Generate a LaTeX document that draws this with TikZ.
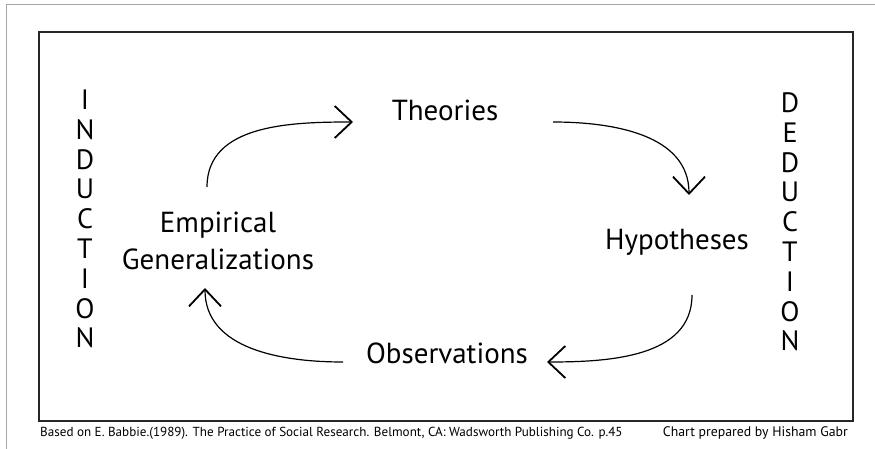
\documentclass[tikz,border=0pt]{standalone}
\usepackage{fontspec}
\setmainfont{PT Sans}
\usetikzlibrary{calc,arrows.meta}
\tikzstyle{term} = [text centered, inner sep=0pt, align=center, font=\fontsize{29}{37}\selectfont]
\tikzstyle{vword} = [inner sep=0pt, align=center, font=\fontsize{28}{29.8}\selectfont]
\tikzstyle{cycle} = [draw, line width=1.2pt, -{Straight Barb[length=17pt,width=32pt,line width=1.8pt]}]
\tikzstyle{note} = [inner sep=0pt, font=\fontsize{13.1}{15}\selectfont]

\begin{document}
\begin{tikzpicture}[x=1pt, y=1pt]
    \useasboundingbox (0,0) rectangle (875,448);
    \draw [gray!70, line width=0.8pt] (6,-20) rectangle (895,444);
    \draw [black!85, line width=1.8pt] (39,27) rectangle (853,416);

    \node [vword] (ind) at (85,229) {I\\N\\D\\U\\C\\T\\I\\O\\N};
    \node [vword] (ded) at (790,226) {D\\E\\D\\U\\C\\T\\I\\O\\N};

    \node [term] (theo) at (445,338) {Theories};
    \node [term] (hyp) at (677,206) {Hypotheses};
    \node [term] (obs) at (447,95) {Observations};
    \node [term] (emp) at (218,207) {Empirical\\Generalizations};

    \path [cycle] ($(emp)+(-11,54)$) to[out=90, in=180] ($(theo)+(-92,-12)$);
    \path [cycle] ($(theo)+(108,-12)$) to[out=0, in=90] ($(hyp)+(12,47)$);
    \path [cycle] ($(hyp)+(15,-53)$) to[out=270, in=0] ($(obs)+(100,-9)$);
    \path [cycle] ($(obs)+(-104,-9)$) to[out=180, in=270] ($(emp)+(-13,-47)$);

    \node [note, anchor=base west] (src) at (40,12) {Based on E. Babbie.(1989). The Practice of Social Research. Belmont, CA: Wadsworth Publishing Co. p.45};
    \node [note, anchor=base east, font=\fontsize{13.8}{15}\selectfont] (credit) at (848,12) {Chart prepared by Hisham Gabr};
\end{tikzpicture}
\end{document}
